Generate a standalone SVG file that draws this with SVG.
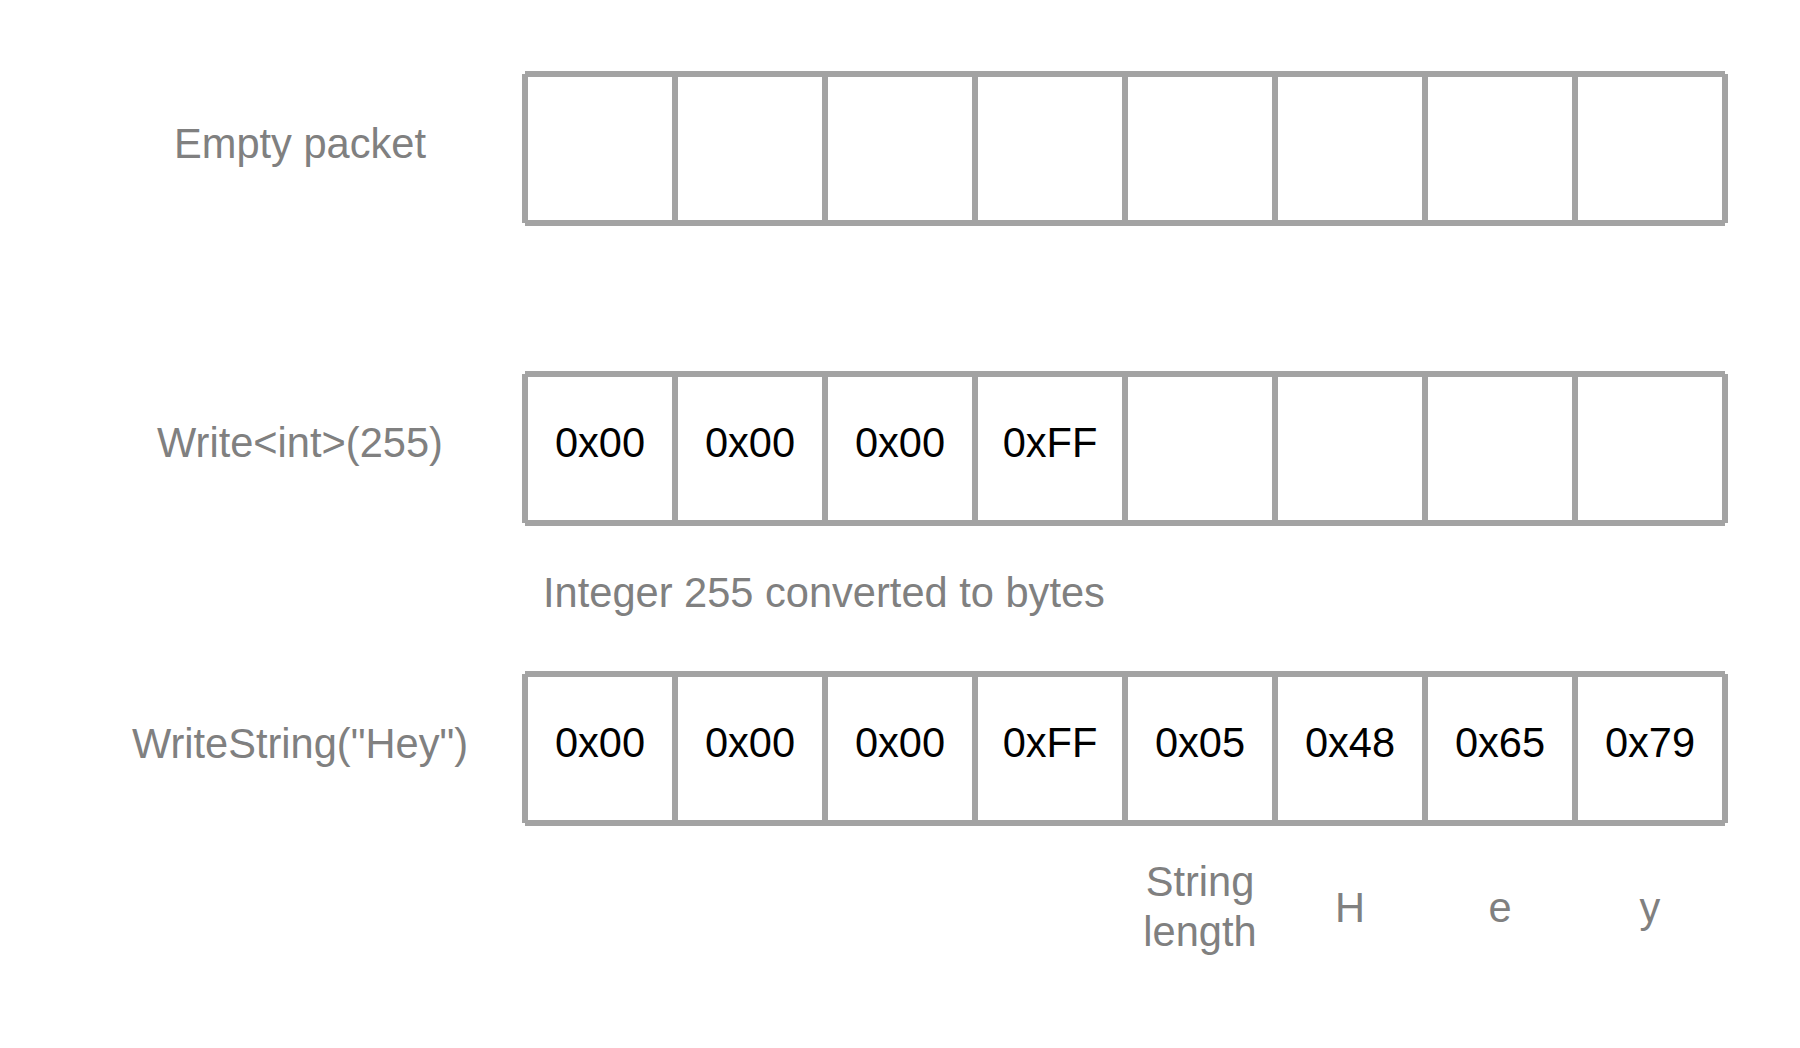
<svg xmlns="http://www.w3.org/2000/svg" width="1800" height="1048" viewBox="0 0 1800 1048">
<style>
.ln{stroke:#A3A3A3;stroke-width:6;fill:none;stroke-linecap:butt}
.lbl{font-family:"Liberation Sans",Arial,sans-serif;font-size:41.6px;fill:#808080;text-anchor:middle}
.hex{font-family:"Liberation Sans",Arial,sans-serif;font-size:41.6px;fill:#000000;text-anchor:middle}
.note{font-family:"Liberation Sans",Arial,sans-serif;font-size:41.6px;fill:#808080}
</style>
<defs>
<g id="packet">
<rect x="0" y="0" width="1200" height="149" fill="#FFFFFF"/>
<path class="ln" d="M0 0H1200M0 149H1200M0 0V149M150 0V149M300 0V149M450 0V149M600 0V149M750 0V149M900 0V149M1050 0V149M1200 0V149"/>
</g>
</defs>
<rect width="1800" height="1048" fill="#FFFFFF"/>

<g id="row1">
<text class="lbl" x="300" y="158">Empty packet</text>
<use href="#packet" x="525" y="74"/>
</g>

<g id="row2">
<text class="lbl" x="300" y="457">Write&lt;int&gt;(255)</text>
<use href="#packet" x="525" y="374"/>
<text class="hex" x="600" y="457">0x00</text>
<text class="hex" x="750" y="457">0x00</text>
<text class="hex" x="900" y="457">0x00</text>
<text class="hex" x="1050" y="457">0xFF</text>
</g>

<g id="note1">
<text class="note" x="543" y="607">Integer 255 converted to bytes</text>
</g>

<g id="row3">
<text class="lbl" x="300" y="758">WriteString("Hey")</text>
<use href="#packet" x="525" y="674"/>
<text class="hex" x="600" y="757">0x00</text>
<text class="hex" x="750" y="757">0x00</text>
<text class="hex" x="900" y="757">0x00</text>
<text class="hex" x="1050" y="757">0xFF</text>
<text class="hex" x="1200" y="757">0x05</text>
<text class="hex" x="1350" y="757">0x48</text>
<text class="hex" x="1500" y="757">0x65</text>
<text class="hex" x="1650" y="757">0x79</text>
</g>

<g id="annotations">
<text class="lbl" x="1200" y="896">String</text>
<text class="lbl" x="1200" y="946">length</text>
<text class="lbl" x="1350" y="922">H</text>
<text class="lbl" x="1500" y="922">e</text>
<text class="lbl" x="1650" y="922">y</text>
</g>

<g id="connectors"></g>
</svg>
